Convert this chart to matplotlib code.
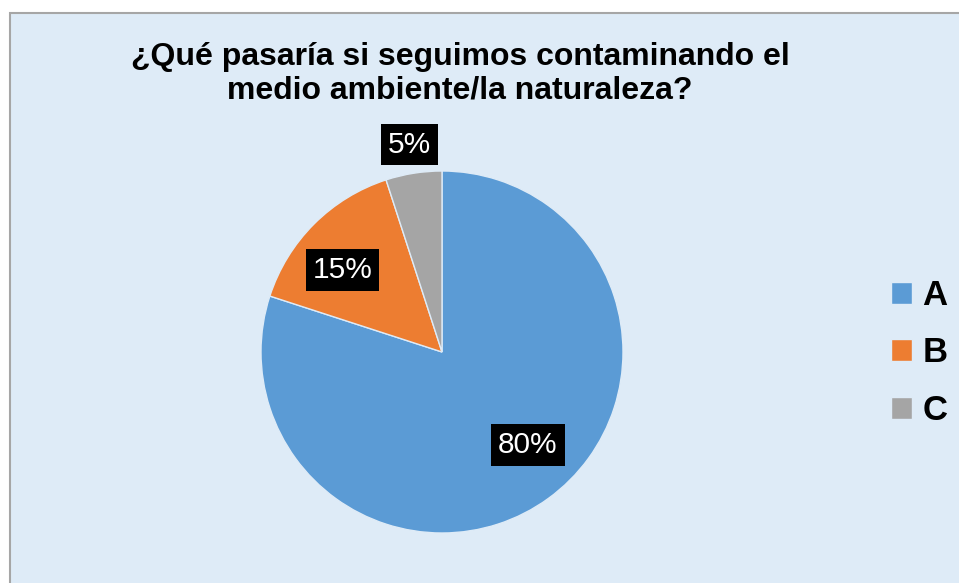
import matplotlib.pyplot as plt
from matplotlib.patches import Rectangle

categories = ['A', 'B', 'C']
values = [80, 15, 5]
colors = ['#5B9BD5', '#ED7D31', '#A5A5A5']
title = '¿Qué pasaría si seguimos contaminando el\nmedio ambiente/la naturaleza?'

plt.rcParams['font.family'] = ['Liberation Sans', 'DejaVu Sans']

W, H = 959, 583
fig = plt.figure(figsize=(W / 100, H / 100), dpi=100)
fig.patch.set_facecolor('white')

# chart area background with grey border
fig.add_artist(Rectangle((10 / W, -0.01), 1.0, 1 - 13 / H + 0.01,
                         transform=fig.transFigure, facecolor='#DEEBF7',
                         edgecolor='#A6A6A6', linewidth=1.5, zorder=0))

fig.text(460 / W, 1 - 74 / H, title, ha='center', va='center',
         fontsize=23, fontweight='bold', linespacing=1.15)

cx, cy, r = 442, 352, 181
ax = fig.add_axes([(cx - r) / W, (H - cy - r) / H, 2 * r / W, 2 * r / H])
wedges, texts, autotexts = ax.pie(values, colors=colors, startangle=90, counterclock=False,
                                  autopct='%1.0f%%', pctdistance=0.7,
                                  wedgeprops=dict(edgecolor='#DEEBF7', linewidth=1),
                                  textprops=dict(color='white', fontsize=21.5))
ax.set_xlim(-1, 1)
ax.set_ylim(-1, 1)

for t in autotexts:
    t.set_bbox(dict(facecolor='black', edgecolor='none', pad=5))
# Excel-style "best fit": small slice label sits outside
x, y = autotexts[2].get_position()
autotexts[2].set_position((x / 0.7 * 1.16, y / 0.7 * 1.16))
autotexts[0].set_position((0.475, -0.515))
autotexts[1].set_position((-0.55, 0.455))

leg = fig.legend(wedges, categories, loc='center left',
                 bbox_to_anchor=(860 / W, 1 - 353 / H), frameon=False,
                 prop=dict(size=25, weight='bold'), handlelength=0.6,
                 handleheight=0.6, handletextpad=0.3, labelspacing=0.7)

fig.savefig('out.png', dpi=100)
